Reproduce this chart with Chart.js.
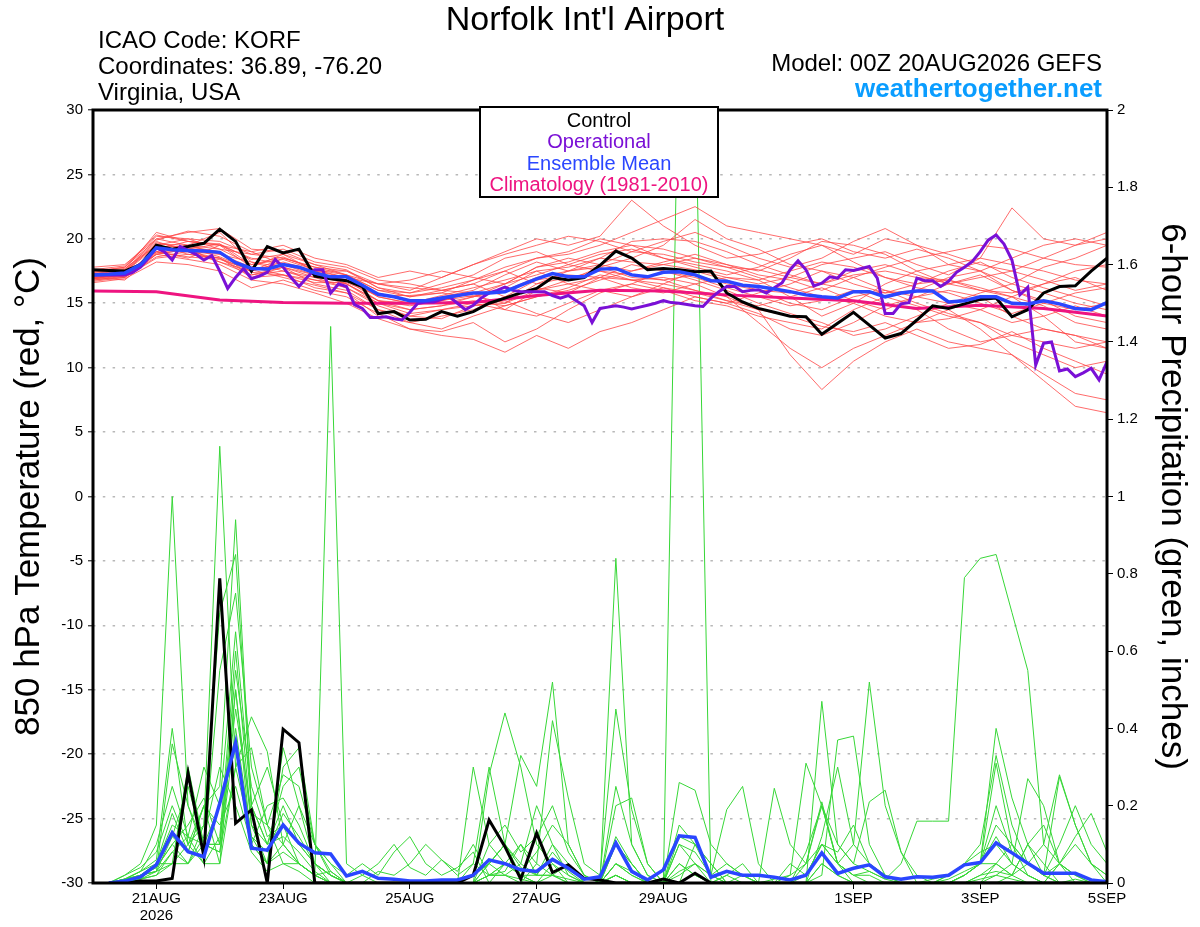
<!DOCTYPE html>
<html>
<head>
<meta charset="utf-8">
<title>Norfolk Int'l Airport - GEFS</title>
<script src="https://cdn.jsdelivr.net/npm/chart.js@4.4.1/dist/chart.umd.min.js"></script>
<style>
  html, body { margin: 0; padding: 0; background: #fff; }
  #wrap { width: 1200px; height: 927px; }
</style>
</head>
<body>
<div id="wrap"><canvas id="gefsChart" width="1200" height="927"></canvas></div>
<script>
// x axis is forecast hour from 00Z 20AUG2026
const tickHours = [24, 72, 120, 168, 216, 288, 336, 384];
const tickText = [['21AUG', '2026'], '23AUG', '25AUG', '27AUG', '29AUG', '1SEP', '3SEP', '5SEP'];

// 850 hPa temperature (C), 6-hourly from hour 0
const controlTemp = [
	17.6, 17.55, 17.5, 18.0, 19.5, 19.2, 19.4, 19.65,
	20.75, 19.8, 17.5, 19.4, 18.9, 19.2, 17.1, 16.9,
	16.75, 16.3, 14.2, 14.35, 13.7, 13.75, 14.35, 14.0,
	14.35, 15.0, 15.4, 15.8, 16.15, 17.0, 16.8, 17.0,
	17.95, 19.05, 18.5, 17.6, 17.7, 17.6, 17.45, 17.5,
	15.8, 15.1, 14.6, 14.3, 14.0, 13.95, 12.6, 13.45,
	14.3, 13.3, 12.3, 12.65, 13.7, 14.8, 14.6, 14.95,
	15.3, 15.4, 13.95, 14.5, 15.8, 16.3, 16.35, 17.5,
	18.5
];
const meanTemp = [
	17.2, 17.25, 17.35, 18.0, 19.3, 19.15, 19.1, 19.05,
	18.95, 18.15, 17.7, 17.65, 18.0, 17.8, 17.35, 17.05,
	17.05, 16.4, 15.7, 15.5, 15.2, 15.2, 15.4, 15.6,
	15.8, 15.8, 15.9, 16.4, 16.9, 17.3, 17.05, 17.05,
	17.65, 17.7, 17.2, 17.05, 17.4, 17.45, 17.2, 16.75,
	16.7, 16.4, 16.3, 16.1, 15.9, 15.65, 15.5, 15.4,
	15.9, 15.9, 15.5, 15.8, 15.95, 15.95, 15.1, 15.2,
	15.5, 15.5, 15.0, 14.95, 15.2, 14.95, 14.6, 14.5,
	15.05
];
// operational run, 3-hourly from hour 0
const operTemp = [
	17.2, 17.2, 17.2, 17.2, 17.2, 17.4, 17.8, 18.5,
	19.3, 19.0, 18.35, 19.4, 19.1, 18.8, 18.35, 18.7,
	17.5, 16.15, 17.0, 17.7, 16.9, 17.1, 17.4, 18.4,
	17.8, 17.0, 16.3, 17.0, 17.6, 17.6, 15.8, 16.5,
	16.3, 14.9, 14.6, 13.9, 13.9, 13.95, 13.8, 13.7,
	14.3, 15.0, 15.1, 15.1, 15.3, 15.5, 15.0, 14.5,
	14.85, 15.4, 15.8, 16.0, 16.25, 16.0, 15.9, 15.9,
	15.9, 15.9, 15.6, 15.4, 15.6, 15.2, 14.8, 13.5,
	14.6, 14.7, 14.8, 14.7, 14.55, 14.7, 14.85, 15.0,
	15.2, 15.05, 15.0, 14.9, 14.8, 14.75, 15.4, 15.9,
	16.3, 16.3, 15.9, 16.0, 16.05, 15.8, 16.2, 16.6,
	17.6, 18.3, 17.6, 16.35, 16.55, 17.05, 16.95, 17.6,
	17.55, 17.7, 17.85, 16.95, 14.2, 14.2, 14.95, 15.05,
	16.95, 16.75, 16.75, 16.3, 16.7, 17.4, 17.8, 18.25,
	19.0, 19.9, 20.3, 19.6, 18.35, 15.65, 16.25, 10.2,
	11.9, 12.0, 9.75, 9.9, 9.3, 9.6, 9.95, 9.05,
	10.45
];
// climatology (1981-2010), daily at 00Z
const climTemp = [15.95, 15.9, 15.25, 15.05, 15.0, 15.0, 15.05, 15.6, 16.0, 15.95, 15.65, 15.4, 15.2, 14.6, 14.85, 14.6, 14.0];

// ensemble members, 12-hourly from hour 0
const memberTemps = [
	[17.1, 17.4, 19.6, 19.5, 19.2, 18.0, 18.4, 17.6, 17.0, 15.5, 15.0, 15.6, 16.2, 16.8, 17.5, 17.8, 18.5, 18.2, 18.0, 17.6, 17.0, 16.5, 17.0, 18.0, 18.5, 19.0, 18.0, 17.2, 18.5, 22.4, 20.0, 19.5, 20.5],
	[16.8, 17.0, 18.5, 18.8, 18.5, 17.2, 17.5, 16.8, 16.5, 15.0, 14.2, 14.5, 14.8, 15.0, 16.0, 16.5, 17.0, 16.8, 16.5, 16.0, 15.5, 14.5, 11.0, 8.3, 10.5, 12.0, 13.0, 12.0, 11.5, 11.0, 9.5, 8.0, 7.5],
	[17.5, 17.8, 20.2, 20.0, 19.8, 18.8, 19.2, 18.2, 17.8, 16.8, 16.5, 16.0, 15.8, 16.5, 17.8, 18.2, 19.0, 19.5, 19.2, 18.5, 18.0, 17.5, 18.5, 19.8, 19.5, 18.8, 17.5, 16.5, 16.0, 15.5, 16.5, 17.0, 16.0],
	[16.9, 17.1, 19.0, 19.5, 20.5, 18.2, 17.8, 16.5, 16.0, 14.5, 13.5, 13.0, 14.0, 14.8, 15.5, 16.0, 16.8, 17.5, 18.0, 18.5, 17.8, 17.0, 16.2, 15.5, 15.0, 14.0, 13.5, 13.8, 14.5, 15.5, 14.0, 12.0, 11.5],
	[17.3, 17.5, 19.5, 18.8, 18.5, 17.5, 18.5, 17.8, 17.2, 16.0, 15.8, 16.5, 17.2, 18.5, 19.0, 18.0, 17.5, 16.8, 16.2, 15.5, 15.0, 15.8, 16.5, 17.5, 17.0, 16.0, 15.5, 15.0, 15.8, 16.5, 17.8, 18.5, 19.5],
	[17.0, 16.8, 18.8, 19.2, 19.0, 17.0, 17.2, 16.8, 16.2, 14.8, 14.0, 14.5, 15.0, 14.5, 16.0, 16.8, 17.8, 18.5, 19.5, 21.5, 20.0, 19.2, 18.0, 17.5, 16.5, 15.8, 16.0, 17.0, 17.5, 16.0, 15.0, 14.5, 15.0],
	[17.6, 17.9, 20.3, 19.8, 19.5, 19.0, 19.5, 18.5, 18.0, 17.0, 17.5, 17.0, 18.0, 19.0, 20.0, 19.5, 20.2, 23.0, 21.0, 19.5, 18.5, 18.8, 19.5, 20.0, 19.0, 18.5, 19.2, 18.5, 17.5, 16.5, 15.8, 15.0, 14.5],
	[16.6, 16.9, 18.2, 18.0, 17.5, 16.2, 16.8, 16.0, 15.5, 14.2, 13.0, 12.8, 13.5, 12.0, 13.0, 14.5, 15.8, 16.5, 16.0, 15.2, 14.8, 14.0, 13.5, 13.0, 14.5, 15.5, 14.8, 14.0, 13.5, 12.0, 11.0, 10.0, 10.5],
	[17.2, 17.0, 19.2, 19.8, 19.5, 18.5, 18.0, 17.2, 16.8, 15.8, 15.2, 15.0, 15.5, 16.0, 17.0, 17.5, 18.5, 19.8, 20.0, 19.8, 19.0, 18.0, 17.2, 16.5, 16.0, 15.8, 16.5, 16.8, 16.2, 15.5, 14.8, 13.5, 13.0],
	[17.4, 17.6, 19.8, 19.0, 18.2, 17.5, 18.2, 17.5, 17.5, 16.2, 15.5, 16.0, 16.5, 15.5, 16.8, 17.2, 17.0, 16.2, 15.8, 16.5, 17.0, 16.8, 15.5, 14.0, 15.0, 16.5, 17.5, 18.0, 18.5, 18.0, 17.5, 16.8, 16.5],
	[16.7, 17.0, 18.6, 19.0, 18.8, 17.8, 18.8, 17.5, 16.5, 15.2, 14.5, 14.8, 15.5, 16.2, 17.5, 16.5, 16.0, 15.5, 16.5, 17.5, 16.8, 16.0, 15.0, 14.5, 15.5, 16.0, 15.0, 14.2, 13.5, 12.5, 12.0, 11.5, 12.0],
	[17.8, 18.0, 20.0, 20.5, 20.8, 19.2, 19.0, 18.0, 17.2, 16.5, 16.8, 17.5, 17.0, 16.5, 17.8, 18.5, 18.0, 17.5, 18.2, 18.8, 18.0, 17.2, 16.8, 16.0, 17.0, 17.8, 18.5, 19.0, 19.5, 19.2, 18.5, 18.0, 17.8],
	[16.9, 17.3, 19.0, 18.5, 19.5, 17.8, 17.2, 16.2, 15.8, 14.0, 13.5, 14.0, 14.5, 15.5, 16.2, 15.8, 17.0, 18.0, 17.5, 16.8, 16.0, 15.0, 14.2, 13.5, 12.5, 13.0, 14.0, 15.0, 14.5, 13.5, 14.0, 14.8, 14.0],
	[17.1, 17.5, 20.0, 19.5, 18.8, 18.2, 17.5, 17.0, 16.8, 15.5, 15.0, 15.5, 16.0, 17.2, 18.2, 17.5, 17.8, 17.0, 16.8, 17.2, 16.5, 16.0, 15.8, 16.5, 17.5, 18.0, 17.2, 16.5, 17.0, 17.5, 16.8, 16.0, 16.5],
	[17.0, 17.2, 19.2, 19.0, 18.5, 17.0, 17.8, 17.0, 16.2, 15.0, 14.5, 14.8, 15.2, 14.8, 15.5, 16.2, 17.2, 16.8, 17.0, 16.5, 15.5, 13.5, 11.5, 10.0, 11.5, 12.5, 13.5, 14.5, 13.0, 11.0, 9.0, 7.0, 6.5],
	[17.5, 17.7, 19.5, 20.0, 19.2, 18.8, 18.5, 17.8, 17.5, 16.5, 16.2, 16.0, 16.5, 17.5, 18.5, 18.8, 19.5, 20.5, 21.5, 22.5, 21.0, 20.5, 20.0, 19.5, 18.8, 20.0, 19.5, 18.8, 18.0, 17.5, 18.5, 19.5, 20.0],
	[16.8, 17.1, 18.8, 19.2, 18.2, 17.2, 17.8, 17.2, 16.5, 15.2, 15.0, 15.2, 15.8, 14.5, 14.0, 15.0, 16.0, 16.5, 17.5, 17.0, 16.2, 15.5, 14.8, 15.2, 16.0, 15.0, 14.5, 13.0, 12.0, 12.5, 13.0, 12.5, 11.5],
	[17.3, 17.6, 20.5, 19.8, 19.6, 18.0, 18.6, 17.6, 17.2, 16.0, 15.5, 15.8, 15.5, 16.5, 17.2, 18.0, 18.8, 19.2, 18.5, 18.0, 17.5, 16.8, 17.5, 18.2, 17.8, 17.0, 16.2, 15.8, 15.0, 14.2, 15.0, 15.8, 16.2],
	[17.0, 17.3, 19.0, 18.6, 18.4, 17.6, 18.0, 17.4, 16.8, 15.2, 14.8, 15.2, 15.6, 15.0, 16.5, 17.0, 17.5, 17.2, 16.8, 16.0, 15.2, 14.8, 15.5, 16.2, 15.2, 14.5, 15.5, 16.5, 17.2, 16.0, 15.2, 14.0, 13.5],
	[17.2, 17.4, 19.4, 19.4, 19.0, 17.4, 17.2, 16.6, 16.6, 15.6, 15.6, 15.8, 16.8, 17.5, 16.5, 17.5, 18.0, 19.0, 18.8, 18.2, 17.8, 17.6, 17.0, 16.5, 17.2, 17.5, 17.0, 16.8, 16.0, 15.8, 16.5, 17.5, 18.0],
	[17.0, 17.2, 18.8, 18.4, 18.0, 16.8, 16.5, 15.8, 15.0, 13.8, 13.0, 12.5, 12.2, 11.2, 12.5, 11.5, 12.8, 13.5, 14.5, 15.5, 15.0, 14.2, 13.0, 12.5, 13.5, 14.8, 15.5, 16.0, 15.5, 14.0, 13.0, 12.5, 12.0],
	[17.4, 17.8, 19.9, 20.6, 20.2, 19.0, 18.0, 17.5, 17.0, 16.5, 16.0, 17.0, 18.0, 18.8, 19.5, 20.2, 19.8, 19.0, 19.8, 20.5, 19.5, 18.5, 17.8, 18.5, 19.8, 20.8, 19.5, 18.0, 17.5, 18.5, 19.5, 20.0, 19.5],
	[16.9, 17.2, 18.9, 19.3, 18.6, 17.6, 17.0, 16.4, 15.8, 14.5, 14.0, 13.8, 14.8, 15.2, 14.2, 13.5, 14.5, 15.5, 16.2, 15.8, 15.2, 14.5, 14.0, 13.2, 12.8, 13.5, 12.5, 11.5, 11.8, 12.8, 11.5, 10.5, 9.5],
	[17.2, 17.5, 19.7, 19.2, 19.6, 18.4, 18.8, 18.0, 17.6, 16.2, 15.8, 16.2, 16.8, 17.8, 18.5, 19.0, 20.0, 19.5, 18.5, 17.8, 17.2, 17.8, 18.8, 19.5, 18.2, 17.0, 16.5, 17.5, 18.2, 17.0, 16.2, 15.5, 14.8]
];

// 6-hour precipitation (inches), ending at hour 6, 12, ... 384
const controlPrecip = [
	0, 0, 0.005, 0.005, 0.012, 0.284, 0.068, 0.788,
	0.155, 0.189, 0, 0.398, 0.363, 0, 0, 0,
	0, 0, 0, 0, 0, 0, 0, 0.02,
	0.163, 0.094, 0.01, 0.129, 0.027, 0.047, 0.012, 0.008,
	0, 0, 0, 0.01, 0, 0.025, 0, 0,
	0, 0, 0, 0, 0, 0, 0, 0,
	0, 0, 0, 0, 0, 0, 0, 0,
	0, 0, 0, 0, 0, 0, 0, 0
];
const meanPrecip = [
	0, 0.005, 0.016, 0.047, 0.13, 0.081, 0.068, 0.206,
	0.363, 0.09, 0.085, 0.15, 0.103, 0.078, 0.075, 0.018,
	0.03, 0.012, 0.01, 0.005, 0.005, 0.008, 0.008, 0.02,
	0.06, 0.05, 0.034, 0.03, 0.061, 0.038, 0.01, 0.016,
	0.104, 0.03, 0.008, 0.034, 0.122, 0.118, 0.015, 0.03,
	0.02, 0.02, 0.015, 0.008, 0.02, 0.078, 0.025, 0.038,
	0.047, 0.016, 0.01, 0.016, 0.015, 0.02, 0.047, 0.053,
	0.104, 0.078, 0.051, 0.025, 0.025, 0.025, 0.008, 0.003
];
const memberPrecips = [
	[0, 0.01, 0.03, 0.05, 0.12, 0.08, 0.2, 0.15, 0.25, 0.1, 0.05, 0.08, 0.05, 0.02, 1.44, 0.05, 0.02, 0, 0, 0, 0, 0, 0, 0.02, 0.05, 0.1, 0.04, 0.02, 0.08, 0.03, 0, 0, 0.1, 0.05, 0, 0, 0.05, 0.02, 0, 0.02, 0, 0, 0, 0.02, 0.05, 0.2, 0.05, 0.02, 0, 0, 0, 0, 0.01, 0.02, 0.05, 0.08, 0.1, 0.05, 0.02, 0, 0, 0.01, 0, 0],
	[0, 0.02, 0.05, 0.15, 1.0, 0.2, 0.1, 0.1, 0.5, 0.15, 0.1, 0.2, 0.1, 0.05, 0.02, 0, 0.02, 0.05, 0.1, 0.04, 0.02, 0.06, 0.03, 0.1, 0.02, 0.03, 0.1, 0.05, 0.02, 0, 0, 0, 0.25, 0.1, 0.02, 0, 0.03, 0.05, 0, 0, 0.02, 0, 0, 0, 0.08, 0.2, 0.05, 0.02, 0.03, 0.01, 0, 0, 0, 0, 0.02, 0.05, 0.15, 0.1, 0.05, 0.02, 0, 0, 0, 0],
	[0, 0, 0.02, 0.04, 0.1, 0.05, 0.15, 1.13, 0.3, 0.12, 0.05, 0.35, 0.2, 0.05, 0.02, 0, 0, 0, 0, 0, 0, 0, 0, 0, 0.02, 0.02, 0.05, 0.2, 0.1, 0.05, 0, 0, 0.05, 0.02, 0, 0, 0.1, 0.05, 0.02, 0, 0, 0, 0, 0, 0.02, 0.1, 0.05, 0, 0, 0, 0, 0, 0, 0.01, 0.03, 0.05, 0.05, 0.02, 0.1, 0.05, 0, 0, 0, 0],
	[0, 0.01, 0.02, 0.05, 0.05, 0.1, 0.2, 0.25, 0.94, 0.2, 0.3, 0.15, 0.05, 0.02, 0.03, 0, 0, 0, 0, 0, 0, 0, 0, 0.05, 0.3, 0.1, 0.05, 0.02, 0.02, 0, 0, 0, 0.02, 0, 0, 0, 0, 0, 0, 0, 0, 0, 0, 0, 0.05, 0.1, 0.05, 0.1, 0.52, 0.2, 0.08, 0.02, 0, 0, 0, 0.02, 0.03, 0.02, 0, 0, 0, 0, 0, 0],
	[0, 0, 0.01, 0.02, 0.08, 0.12, 0.05, 0.05, 0.5, 0.1, 0.05, 0.1, 0.2, 0.1, 0.05, 0, 0, 0, 0, 0, 0, 0, 0, 0, 0, 0.05, 0.02, 0.02, 0.1, 0.02, 0, 0, 0.05, 0.02, 0, 0, 2.25, 2.1, 0, 0.02, 0.05, 0, 0, 0, 0, 0.05, 0.02, 0, 0, 0, 0, 0, 0, 0, 0, 0.01, 0.02, 0.01, 0, 0, 0, 0, 0, 0],
	[0, 0, 0.02, 0.03, 0.05, 0.05, 0.1, 0.08, 0.3, 0.43, 0.34, 0.1, 0.05, 0.02, 0, 0, 0, 0, 0, 0, 0, 0, 0, 0, 0.02, 0.02, 0.01, 0, 0.05, 0.02, 0, 0, 0.02, 0, 0, 0, 0, 0, 0, 0, 0, 0, 0.01, 0.02, 0.31, 0.2, 0.1, 0.05, 0.03, 0.01, 0.05, 0.16, 0.16, 0.16, 0.79, 0.84, 0.85, 0.7, 0.55, 0.1, 0.05, 0.02, 0.01, 0],
	[0, 0.01, 0.03, 0.06, 0.4, 0.1, 0.15, 0.7, 0.85, 0.2, 0.1, 0.25, 0.3, 0.1, 0.02, 0, 0, 0, 0, 0, 0, 0, 0, 0, 0.28, 0.44, 0.3, 0.1, 0.05, 0, 0, 0, 0, 0, 0, 0, 0, 0, 0, 0, 0, 0, 0, 0, 0, 0.02, 0.37, 0.38, 0.1, 0.02, 0, 0, 0, 0, 0, 0, 0, 0.02, 0.05, 0.1, 0.28, 0.15, 0.05, 0.02],
	[0, 0, 0.01, 0.03, 0.36, 0.2, 0.08, 0.55, 0.75, 0.3, 0.15, 0.1, 0.05, 0.02, 0, 0, 0, 0, 0, 0, 0, 0, 0, 0.02, 0.05, 0.1, 0.33, 0.25, 0.52, 0.1, 0.02, 0, 0.84, 0.1, 0.02, 0, 0, 0, 0, 0, 0, 0, 0, 0, 0, 0, 0, 0, 0, 0, 0, 0, 0, 0.02, 0.05, 0.05, 0.4, 0.22, 0.1, 0.02, 0, 0, 0, 0],
	[0, 0.02, 0.04, 0.08, 0.2, 0.1, 0.05, 0.12, 0.6, 0.15, 0.05, 0.3, 0.35, 0.1, 0.05, 0.02, 0.05, 0.02, 0.08, 0.12, 0.05, 0.02, 0.04, 0.08, 0, 0, 0, 0.05, 0.42, 0.22, 0.05, 0.02, 0.45, 0.19, 0.05, 0, 0.26, 0.24, 0.1, 0.05, 0.02, 0, 0, 0, 0, 0.47, 0.1, 0.05, 0.21, 0.24, 0.08, 0, 0, 0, 0, 0, 0.02, 0.05, 0.27, 0.2, 0.05, 0.02, 0, 0],
	[0, 0, 0.02, 0.05, 0.15, 0.12, 0.1, 0.08, 0.4, 0.12, 0.08, 0.18, 0.12, 0.05, 0.02, 0, 0, 0, 0, 0, 0, 0, 0, 0.3, 0.1, 0.05, 0.02, 0, 0.02, 0.05, 0, 0, 0.2, 0.22, 0.05, 0, 0.02, 0.05, 0.02, 0.19, 0.25, 0.05, 0, 0, 0, 0, 0, 0, 0, 0, 0, 0, 0, 0, 0.02, 0.05, 0.31, 0.1, 0.05, 0.02, 0.275, 0.15, 0.05, 0.02],
	[0, 0.01, 0.02, 0.04, 0.1, 0.15, 0.22, 0.1, 0.55, 0.25, 0.12, 0.15, 0.1, 0.05, 0, 0, 0, 0, 0, 0, 0, 0, 0, 0, 0.05, 0.1, 0.02, 0, 0, 0, 0, 0, 0.1, 0.05, 0, 0, 0.15, 0.1, 0.05, 0, 0, 0, 0.245, 0.1, 0.05, 0.21, 0.05, 0.02, 0.02, 0, 0, 0, 0, 0, 0, 0.02, 0.05, 0.1, 0.02, 0, 0, 0, 0, 0],
	[0, 0, 0.01, 0.02, 0.05, 0.3, 0.1, 0.2, 0.35, 0.1, 0.2, 0.22, 0.15, 0.05, 0.02, 0, 0, 0, 0, 0, 0, 0, 0, 0, 0.02, 0.05, 0.1, 0.02, 0.02, 0.01, 0, 0, 0.02, 0, 0, 0, 0, 0, 0, 0, 0, 0, 0, 0, 0, 0.05, 0.02, 0, 0, 0, 0, 0, 0, 0, 0.02, 0.05, 0.2, 0.08, 0.05, 0.02, 0.1, 0.2, 0.1, 0.05],
	[0, 0.01, 0.03, 0.1, 0.25, 0.12, 0.3, 0.2, 0.65, 0.2, 0.1, 0.12, 0.08, 0.03, 0, 0, 0, 0, 0, 0, 0, 0, 0, 0, 0, 0, 0, 0, 0, 0, 0, 0, 0, 0, 0, 0, 0.05, 0.02, 0, 0, 0, 0, 0, 0, 0, 0, 0, 0, 0, 0, 0, 0, 0, 0, 0, 0, 0, 0, 0, 0, 0.05, 0.1, 0.05, 0],
	[0, 0, 0.02, 0.03, 0.12, 0.25, 0.1, 0.1, 0.45, 0.18, 0.15, 0.28, 0.25, 0.1, 0.03, 0, 0, 0.03, 0.02, 0.05, 0.1, 0.06, 0.02, 0.05, 0.02, 0.05, 0.03, 0.08, 0.15, 0.1, 0.02, 0, 0.05, 0.03, 0, 0, 0.12, 0.1, 0.02, 0.05, 0.02, 0, 0, 0.05, 0.02, 0.1, 0.08, 0.15, 0.05, 0.02, 0, 0, 0, 0.02, 0.05, 0.1, 0.33, 0.15, 0.05, 0.02, 0.05, 0.02, 0, 0],
	[0, 0.01, 0.02, 0.03, 0.08, 0.05, 0.12, 0.3, 0.2, 0.08, 0.03, 0.05, 0.03, 0, 0, 0, 0, 0, 0, 0, 0, 0, 0, 0, 0.1, 0.15, 0.08, 0.12, 0.2, 0.08, 0.02, 0, 0.12, 0.05, 0, 0, 0.1, 0.08, 0.02, 0, 0, 0, 0, 0, 0, 0, 0, 0, 0, 0, 0, 0, 0, 0, 0.02, 0.05, 0.12, 0.05, 0.02, 0, 0.05, 0.12, 0.18, 0.08],
	[0, 0, 0.01, 0.05, 0.18, 0.08, 0.2, 0.05, 0.3, 0.35, 0.15, 0.05, 0.05, 0.02, 0, 0, 0, 0, 0, 0, 0, 0, 0, 0, 0.05, 0.02, 0, 0, 0, 0, 0, 0, 0.02, 0, 0, 0, 0, 0.1, 0.05, 0, 0, 0, 0, 0, 0, 0.12, 0.3, 0.1, 0.05, 0.02, 0, 0, 0, 0, 0, 0, 0.05, 0.02, 0.1, 0.15, 0.05, 0, 0, 0]
];

const hourSteps = (count, step, first = 0) => Array.from({ length: count }, (_, i) => first + i * step);
const toPoints = (hours, values) => values.map((v, i) => ({ x: hours[i], y: v }));

const hours3 = hourSteps(operTemp.length, 3);
const hours6 = hourSteps(controlTemp.length, 6);
const hours12 = hourSteps(33, 12);
const hours24 = hourSteps(climTemp.length, 24);
const precipHours = hourSteps(controlPrecip.length, 6, 6);

const FONT = "'Liberation Sans', Arial, Helvetica, sans-serif";

function line(data, color, width, axis, order) {
	return {
		data: data,
		borderColor: color,
		borderWidth: width,
		yAxisID: axis,
		order: order,
		pointRadius: 0,
		fill: false,
		tension: 0
	};
}

const datasets = [];
datasets.push(line(toPoints(hours6, meanTemp), '#2a46ff', 3.5, 'temp', 1));
datasets.push(line(toPoints(hours3, operTemp), '#7a10d6', 3, 'temp', 2));
datasets.push(line(toPoints(hours6, controlTemp), '#000000', 3, 'temp', 3));
datasets.push(line(toPoints(hours24, climTemp), '#ee1480', 3, 'temp', 4));
datasets.push(line(toPoints(precipHours, meanPrecip), '#2a46ff', 3.5, 'precip', 5));
datasets.push(line(toPoints(precipHours, controlPrecip), '#000000', 3, 'precip', 6));
memberTemps.forEach(m => datasets.push(line(toPoints(hours12, m), 'rgba(255, 70, 70, 0.8)', 1, 'temp', 7)));
memberPrecips.forEach(m => datasets.push(line(toPoints(precipHours, m), 'rgb(55, 215, 55)', 1, 'precip', 8)));

// frame, key box and header text
const decor = {
	id: 'decor',
	afterDatasetsDraw(chart) {
		const { ctx, chartArea: a } = chart;
		ctx.save();
		ctx.strokeStyle = '#000';
		ctx.lineWidth = 3;
		ctx.strokeRect(a.left, a.top, a.right - a.left, a.bottom - a.top);

		ctx.fillStyle = '#fff';
		ctx.fillRect(480, 107, 238, 90);
		ctx.lineWidth = 2;
		ctx.strokeRect(480, 107, 238, 90);

		ctx.font = '20px ' + FONT;
		ctx.textAlign = 'center';
		ctx.textBaseline = 'middle';
		const key = [['Control', '#000000'], ['Operational', '#7a10d6'], ['Ensemble Mean', '#2a46ff'], ['Climatology (1981-2010)', '#ee1480']];
		key.forEach((k, i) => {
			ctx.fillStyle = k[1];
			ctx.fillText(k[0], 599, 121 + i * 21.5);
		});

		ctx.textBaseline = 'alphabetic';
		ctx.fillStyle = '#000';
		ctx.font = '34px ' + FONT;
		ctx.fillText("Norfolk Int'l Airport", 585, 30);

		ctx.font = '24px ' + FONT;
		ctx.textAlign = 'left';
		ctx.fillText('ICAO Code: KORF', 98, 48);
		ctx.fillText('Coordinates: 36.89, -76.20', 98, 74);
		ctx.fillText('Virginia, USA', 98, 100);

		ctx.textAlign = 'right';
		ctx.fillText('Model: 00Z 20AUG2026 GEFS', 1102, 71);
		ctx.font = 'bold 26px ' + FONT;
		ctx.fillStyle = '#0a9dff';
		ctx.fillText('weathertogether.net', 1102, 97);
		ctx.restore();
	}
};

new Chart(document.getElementById('gefsChart'), {
	type: 'line',
	data: { datasets: datasets },
	options: {
		responsive: false,
		animation: false,
		events: [],
		parsing: false,
		layout: { padding: { top: 110, left: 0, right: 0, bottom: 0 } },
		plugins: {
			legend: { display: false },
			tooltip: { enabled: false }
		},
		scales: {
			x: {
				type: 'linear',
				min: 0,
				max: 384,
				afterFit: (scale) => { scale.height = 44; },
				afterBuildTicks: (scale) => { scale.ticks = tickHours.map(h => ({ value: h })); },
				ticks: {
					autoSkip: false,
					maxRotation: 0,
					padding: 2,
					color: '#000',
					font: { family: FONT, size: 15, lineHeight: 1.1 },
					callback: (v) => tickText[tickHours.indexOf(v)]
				},
				grid: { drawOnChartArea: false, tickLength: 6, tickColor: '#000', tickWidth: 1 },
				border: { display: false }
			},
			temp: {
				position: 'left',
				min: -30,
				max: 30,
				afterFit: (scale) => { scale.width = 93; },
				ticks: { stepSize: 5, padding: 5, color: '#000', font: { family: FONT, size: 15 } },
				grid: { color: '#b8b8b8', lineWidth: 1.6, tickLength: 5, tickColor: '#000', tickWidth: 1 },
				border: { display: false, dash: [2.5, 7.3] },
				title: {
					display: true,
					text: '850 hPa Temperature (red, °C)',
					color: '#000',
					font: { family: FONT, size: 35 },
					padding: { top: 8, bottom: 0 }
				}
			},
			precip: {
				position: 'right',
				min: 0,
				max: 2,
				afterFit: (scale) => { scale.width = 93; },
				ticks: {
					stepSize: 0.2,
					padding: 4,
					color: '#000',
					font: { family: FONT, size: 15 },
					callback: (v) => String(Math.round(v * 10) / 10)
				},
				grid: { drawOnChartArea: false, tickLength: 6, tickColor: '#000', tickWidth: 1 },
				border: { display: false },
				title: {
					display: true,
					text: '6-hour Precipitation (green, inches)',
					color: '#000',
					font: { family: FONT, size: 35 },
					padding: { top: 7, bottom: 0 }
				}
			}
		}
	},
	plugins: [decor]
});
</script>
</body>
</html>
